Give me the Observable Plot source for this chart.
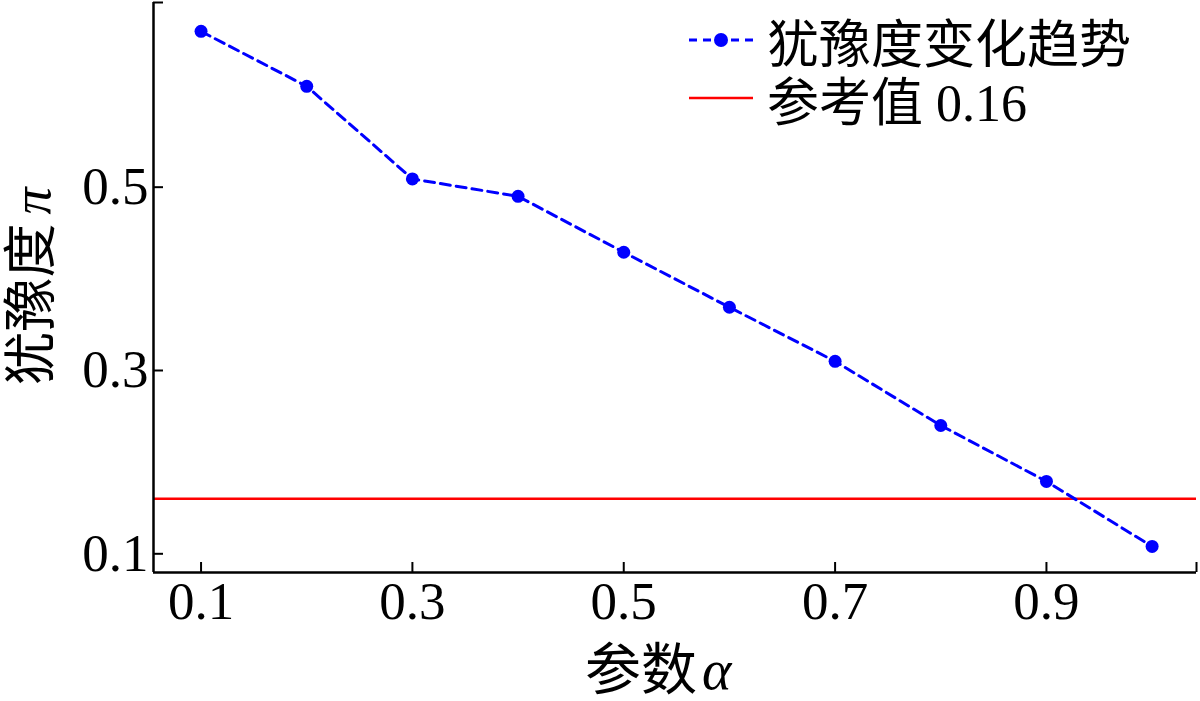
<!DOCTYPE html>
<html>
<head>
<meta charset="utf-8">
<script src="https://cdn.jsdelivr.net/npm/d3@7"></script>
<script src="https://cdn.jsdelivr.net/npm/@observablehq/plot@0.6"></script>
<style>
  html, body { margin: 0; padding: 0; background: #fff; }
  #wrap { position: relative; width: 1200px; height: 701px; }
  #legend { position: absolute; left: 0; top: 0; font-family: 'Liberation Serif', 'Noto Sans CJK SC', serif; font-size: 52px; color: #000; }
  .row { position: absolute; white-space: nowrap; display: flex; align-items: center; }
  .row svg { margin-right: 12px; }
</style>
</head>
<body>
<div id="wrap"><div id="legend"></div></div>
<script>
// ---- data ----
const alpha = [0.1, 0.2, 0.3, 0.4, 0.5, 0.6, 0.7, 0.8, 0.9, 1.0];
const hesitation = [0.670, 0.610, 0.509, 0.490, 0.429, 0.369, 0.310, 0.240, 0.179, 0.108];
const refValue = 0.16;
const xTicks = [0.1, 0.3, 0.5, 0.7, 0.9];
const yTicks = [0.1, 0.3, 0.5];
const xDomain = [0.055, 1.042];
const yDomain = [0.0796, 0.7015];
const seriesLabel = "犹豫度变化趋势";
const refLabel = "参考值 0.16";
const xLabelText = "参数";
const xLabelSym = "α";
const yLabelText = "犹豫度";
const yLabelSym = "π";

const data = alpha.map((a, i) => ({alpha: a, pi: hesitation[i]}));

const W = 1200, H = 701;
const mL = 153, mR = 4, mT = 2, mB = 129;
const frameW = W - mL - mR, frameH = H - mT - mB;
const font = "'Liberation Serif', 'Noto Sans CJK SC', serif";
const fs = 53;
const labelFs = 56;
const yLabelFs = 54;
const blue = "#0000ff";
const red = "#ff0000";

const chart = Plot.plot({
  width: W, height: H,
  marginLeft: mL, marginRight: mR, marginTop: mT, marginBottom: mB,
  style: {fontFamily: font, fontSize: fs + "px", background: "#fff", color: "#000"},
  x: {domain: xDomain},
  y: {domain: yDomain},
  marks: [
    Plot.ruleY([refValue], {y: d => d, stroke: red, strokeWidth: 2.5}),
    Plot.line(data, {x: "alpha", y: "pi", stroke: blue, strokeWidth: 3, strokeDasharray: "10,6"}),
    Plot.dot(data, {x: "alpha", y: "pi", r: 6.5, fill: blue, stroke: "none"}),
    Plot.ruleX([xDomain[0]], {x: d => d, stroke: "#000", strokeWidth: 2.5}),
    Plot.ruleY([yDomain[0]], {y: d => d, stroke: "#000", strokeWidth: 2.5}),
    Plot.tickX([...xTicks, xDomain[1]], {x: d => d, insetTop: frameH - 10, stroke: "#000", strokeWidth: 2}),
    Plot.tickY([...yTicks, yDomain[1]], {y: d => d, insetRight: frameW - 10, stroke: "#000", strokeWidth: 2}),
    Plot.axisX({ticks: xTicks, tickSize: 0, tickPadding: 9, fontSize: fs, tickFormat: d3.format(".1f"), label: null, fontFamily: font}),
    Plot.axisY({ticks: yTicks, tickSize: 0, tickPadding: 5, fontSize: fs, tickFormat: d3.format(".1f"), label: null, fontFamily: font}),
    Plot.text([xLabelText], {text: d => d, frameAnchor: "bottom", dy: 99, dx: 22, textAnchor: "end", lineAnchor: "middle", fontSize: labelFs, fontFamily: font}),
    Plot.text([xLabelSym], {text: d => d, frameAnchor: "bottom", dy: 99, dx: 27, textAnchor: "start", lineAnchor: "middle", fontSize: labelFs, fontFamily: font, fontStyle: "italic"}),
    Plot.text([yLabelText], {text: d => d, frameAnchor: "left", dx: -121, dy: -64, rotate: -90, textAnchor: "end", lineAnchor: "middle", fontSize: yLabelFs, fontFamily: font}),
    Plot.text([yLabelSym], {text: d => d, frameAnchor: "left", dx: -121, dy: -73, rotate: -90, textAnchor: "start", lineAnchor: "middle", fontSize: yLabelFs, fontFamily: font, fontStyle: "italic"})
  ]
});
document.getElementById("wrap").prepend(chart);

// ---- legend (inside plot, top-right) ----
const legend = d3.select("#legend");
const items = [
  {label: seriesLabel, color: blue, dashed: true, dot: true, top: 10},
  {label: refLabel, color: red, dashed: false, dot: false, top: 68}
];
for (const it of items) {
  const row = legend.append("div").attr("class", "row").style("left", "687px").style("top", it.top + "px").style("height", "60px");
  const s = row.append("svg").attr("width", 68).attr("height", 20);
  s.append("line").attr("x1", 2).attr("x2", 66).attr("y1", 10).attr("y2", 10)
    .attr("stroke", it.color).attr("stroke-width", it.dashed ? 3 : 2.5)
    .attr("stroke-dasharray", it.dashed ? "8,6" : null);
  if (it.dot) s.append("circle").attr("cx", 34).attr("cy", 10).attr("r", 7).attr("fill", it.color);
  row.append("span").text(it.label);
}
</script>
</body>
</html>
